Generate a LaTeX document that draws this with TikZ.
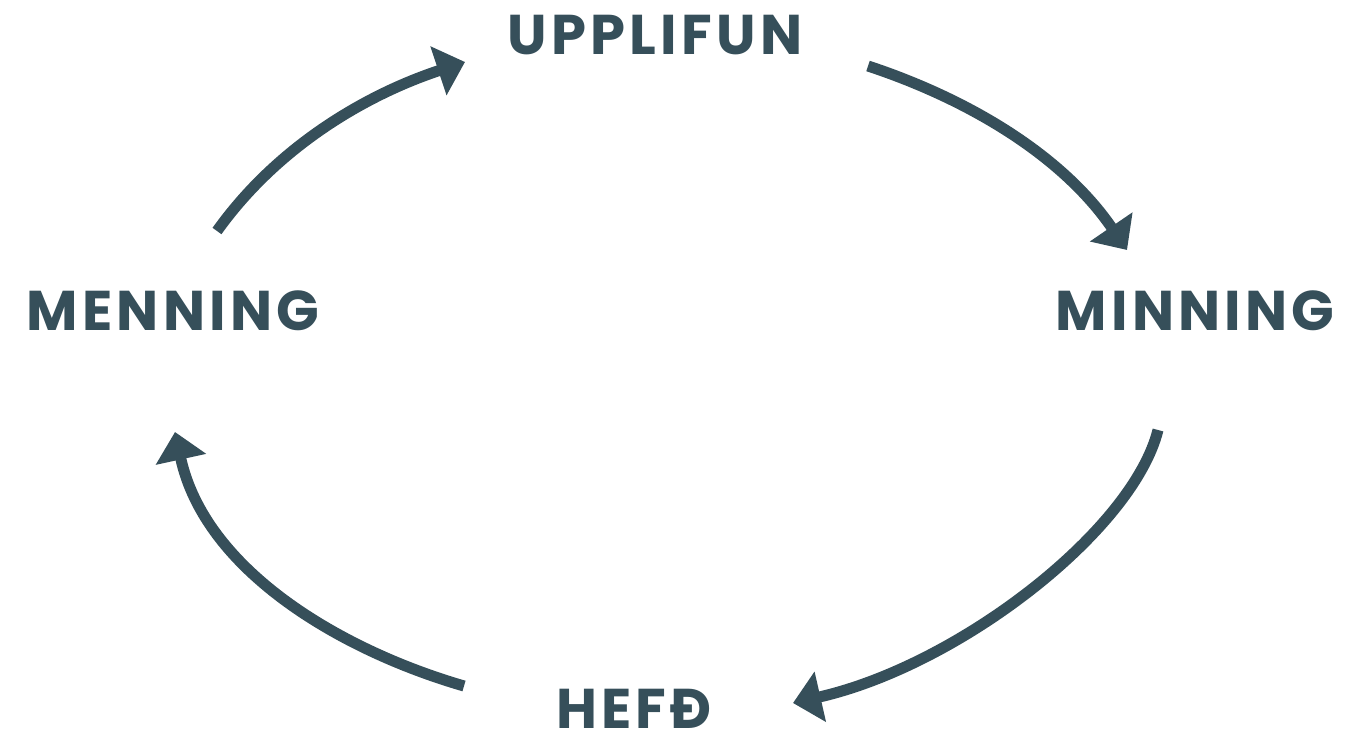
\documentclass[tikz,border=0pt]{standalone}
\usepackage{fontspec}
\setmainfont{Poppins}[LetterSpace=7.5]
\usetikzlibrary{arrows.meta}
\definecolor{slate}{HTML}{364F5A}
\begin{document}
\begin{tikzpicture}[x=1pt,y=-1pt,
  lbl/.style={text=slate,font=\fontsize{56}{60}\selectfont\bfseries,inner sep=0pt,anchor=base,text depth=0pt},
  cyc/.style={draw=slate,line width=11pt,-{Triangle[length=28pt,width=50pt]}}]
\useasboundingbox[fill=white] (0,0) rectangle (1366,735);
\node[lbl] (up) at (655,55) {UPPLIFUN};
\node[lbl] (men) at (173,331) {MENNING};
\node[lbl] (min) at (1195,331) {MINNING};
\node[lbl] (hef) at (634,728) {HEFÐ};
\coordinate (a1s) at (217,231); \coordinate (a1e) at (465,62);
\coordinate (a2s) at (868,66);  \coordinate (a2e) at (1127,250);
\coordinate (a3s) at (1158,430); \coordinate (a3e) at (793,703);
\coordinate (a4s) at (464,686); \coordinate (a4e) at (175,432);
\draw[cyc] (a1s) .. controls (277,147) and (365,95) .. (a1e);
\draw[cyc] (a2s) .. controls (968,99) and (1062,155) .. (a2e);
\draw[cyc] (a3s) .. controls (1133,530) and (960,665) .. (a3e);
\draw[cyc] (a4s) .. controls (340,650) and (205,570) .. (a4e);
\end{tikzpicture}
\end{document}
